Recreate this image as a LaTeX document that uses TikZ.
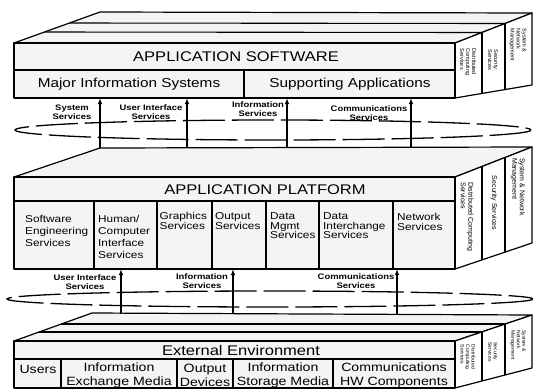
\documentclass[tikz,border=0pt]{standalone}
\usepackage{fontspec}
\setmainfont{Liberation Sans}[FakeStretch=1.18]
\newfontfamily\sidefont{Liberation Sans}
\usetikzlibrary{arrows.meta}
\begin{document}
\begin{tikzpicture}[x=1pt,y=-1pt,
  outl/.style={draw=black,line width=1.2pt,line join=round},
  topface/.style={outl,fill=gray!9},
  frontface/.style={outl,fill=gray!9},
  sideface/.style={outl,fill=white},
  divline/.style={draw=black,line width=1.5pt},
  faceline/.style={draw=black,line width=1.1pt},
  ttl/.style={font=\fontsize{14}{16}\selectfont,inner sep=0pt},
  rowtxt/.style={font=\fontsize{13}{15}\selectfont,inner sep=0pt},
  envtxt/.style={font=\fontsize{12}{14}\selectfont,inner sep=0pt,align=center},
  cellA/.style={font=\fontsize{10}{12}\selectfont,inner sep=0pt,align=left,anchor=north west},
  cellB/.style={font=\fontsize{10}{9.6}\selectfont,inner sep=0pt,align=left,anchor=north west},
  lbl/.style={font=\bfseries\fontsize{8}{9}\selectfont,inner sep=0pt,align=center},
  sideS/.style={font=\sidefont\fontsize{5.5}{6}\selectfont,inner sep=0pt,align=left,rotate=-90},
  sideM/.style={font=\sidefont\fontsize{7}{7.5}\selectfont,inner sep=0pt,align=left,rotate=-90},
  sideB/.style={font=\sidefont\fontsize{5}{5.5}\selectfont,inner sep=0pt,align=left,rotate=-90},
  ring/.style={draw=black,line width=1.3pt,dash pattern=on 42pt off 7pt},
  upar/.style={draw=black,line width=1.5pt,-{Latex[length=6pt,width=4.5pt]}}
]
\useasboundingbox (0,0) rectangle (533,389);

% ================= TOP BLOCK =================
\path[topface] (14,43) -- (100,12) -- (532,13) -- (455,43) -- cycle;
\draw[faceline] (44.5,32) -- (482,32.5);
\draw[faceline] (69.5,23) -- (505,23.5);
\path[sideface] (455,43) -- (532,13) -- (532,85) -- (455,98) -- cycle;
\draw[divline] (482,32.5) -- (482,93.4);
\draw[divline] (505,23.5) -- (505,89.6);
\path[frontface] (14,43) rectangle (455,98);
\draw[faceline] (14,70) -- (455,70);
\draw[faceline] (244,70) -- (244,98);
\node[ttl] (appsw) at (236,57) {APPLICATION SOFTWARE};
\node[rowtxt] (mis) at (129,84) {Major Information Systems};
\node[rowtxt] (supp) at (350,84) {Supporting Applications};
\node[sideS] (tdcs) at (468,62) {Distributed\\Computing\\Services};
\node[sideS] (tsec) at (493,60) {Security\\Services};
\node[sideS] (tsnm) at (518,45) {System \&\\Network\\Management};

% ================= UPPER RING =================
\draw[ring,fill=white] (273,130) ellipse [x radius=258, y radius=10];

% ================= MIDDLE BLOCK =================
\path[topface] (14,177) -- (100,148) -- (532,147) -- (455,177) -- cycle;
\path[sideface] (455,177) -- (532,147) -- (532,243) -- (455,269) -- cycle;
\draw[divline] (482,166.5) -- (482,259.9);
\draw[divline] (505,157.5) -- (505,252.1);
\path[frontface] (14,177) rectangle (455,269);
\draw[faceline] (14,201) -- (455,201);
\foreach \xx in {94,157,212,266,319,393} \draw[faceline] (\xx,201) -- (\xx,269);
\node[ttl] (appplat) at (265,189.5) {APPLICATION PLATFORM};
\node[cellA] (swe) at (25,215.5) {Software\\Engineering\\Services};
\node[cellA] (hci) at (98,215.5) {Human/\\Computer\\Interface\\Services};
\node[cellB] (gfx) at (159.5,212.5) {Graphics\\Services};
\node[cellB] (outs) at (215,212.5) {Output\\Services};
\node[cellB] (dms) at (270,212.5) {Data\\Mgmt\\Services};
\node[cellB] (dis) at (323,212.5) {Data\\Interchange\\Services};
\node[cellB] (nets) at (397,213.5) {Network\\Services};
\node[sideM] (mdcs) at (467,217) {Distributed Computing\\Services};
\node[sideM] (msec) at (494,203) {Security Services};
\node[sideM] (msnm) at (518,187) {System \& Network\\Management};

% ================= LOWER RING =================
\draw[ring,fill=white] (270,299) ellipse [x radius=263, y radius=8];

% ================= BOTTOM BLOCK =================
\path[topface] (14,341) -- (92,313) -- (532,315) -- (455,341) -- cycle;
\draw[faceline] (39,332) -- (482,332);
\draw[faceline] (61.4,324) -- (505,324);
\path[sideface] (455,341) -- (532,315) -- (532,368) -- (455,388) -- cycle;
\draw[divline] (482,332) -- (482,381);
\draw[divline] (505,324) -- (505,375);
\path[frontface] (14,341) rectangle (455,388);
\draw[faceline] (14,359) -- (455,359);
\foreach \xx in {61,177,233,333} \draw[faceline] (\xx,359) -- (\xx,388);
\node[ttl] (extenv) at (241,350.5) {External Environment};
\node[envtxt] (users) at (38,369) {Users};
\node[envtxt] (iem) at (119,375) {Information\\Exchange Media};
\node[envtxt] (odev) at (205,375) {Output\\Devices};
\node[envtxt] (ism) at (283,375) {Information\\Storage Media};
\node[envtxt] (chw) at (394,375) {Communications\\HW Components};
\node[sideB] (bdcs) at (468,357) {Distributed\\Computing\\Services};
\node[sideB] (bsec) at (493,352) {Security\\Services};
\node[sideB] (bsnm) at (518,345) {System \&\\Network\\Management};

% ================= UPPER ARROWS =================
\coordinate (u1b) at (100,148); \coordinate (u1t) at (100,98);
\coordinate (u2b) at (187,148); \coordinate (u2t) at (187,98);
\coordinate (u3b) at (287,148); \coordinate (u3t) at (287,98);
\coordinate (u4b) at (411,147.5); \coordinate (u4t) at (411,98);
\draw[upar] (u1b) -- (u1t);
\draw[upar] (u2b) -- (u2t);
\draw[upar] (u3b) -- (u3t);
\draw[upar] (u4b) -- (u4t);
\node[lbl] (lss) at (72,112.5) {System\\Services};
\node[lbl] (luis) at (151,112.5) {User Interface\\Services};
\node[lbl] (lis) at (258,109) {Information\\Services};
\node[lbl] (lcs) at (369,113.5) {Communications\\Services};

% ================= LOWER ARROWS =================
\coordinate (l1b) at (121,313.5); \coordinate (l1t) at (121,269);
\coordinate (l2b) at (233,313.5); \coordinate (l2t) at (233,269);
\coordinate (l3b) at (397,314); \coordinate (l3t) at (397,269);
\draw[upar] (l1b) -- (l1t);
\draw[upar] (l2b) -- (l2t);
\draw[upar] (l3b) -- (l3t);
\node[lbl] (bluis) at (85,282) {User Interface\\Services};
\node[lbl] (blis) at (202,281) {Information\\Services};
\node[lbl] (blcs) at (356,281) {Communications\\Services};
\end{tikzpicture}
\end{document}
